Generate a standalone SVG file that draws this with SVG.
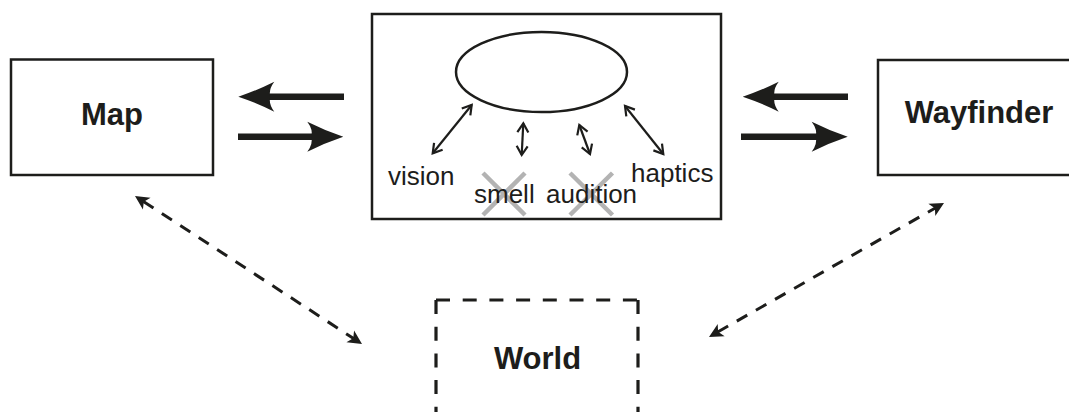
<svg xmlns="http://www.w3.org/2000/svg" width="1069" height="412" viewBox="0 0 1069 412">
  <style>
    .box { fill: #ffffff; stroke: #1d1d1b; stroke-width: 2.5; }
    .dashbox { fill: none; stroke: #1d1d1b; stroke-width: 3.2; stroke-dasharray: 14 12.7; }
    .title { font-family: "Liberation Sans", Arial, sans-serif; font-weight: bold; font-size: 31px; fill: #1d1d1b; text-anchor: middle; }
    .sense { font-family: "Liberation Sans", Arial, sans-serif; font-size: 26px; fill: #1d1d1b; }
    .thick { stroke: #1d1d1b; stroke-width: 6.5; fill: none; }
    .thin { stroke: #1d1d1b; stroke-width: 2.2; fill: none; }
    .dashed { stroke: #1d1d1b; stroke-width: 3; fill: none; stroke-dasharray: 12 10; }
    .cross { stroke: #b3b3b3; stroke-width: 4.5; }
    .head { fill: #1d1d1b; }
    .vhead { fill: none; stroke: #1d1d1b; stroke-width: 2.2; }
  </style>
  <defs>
    <!-- arrowheads drawn with the tip at the origin, pointing along +x -->
    <path id="bigHead" d="M0,0 Q-18,-6 -36,-15 Q-30,-7 -32,0 Q-30,7 -36,15 Q-18,6 0,0 Z"/>
    <path id="dashHead" d="M0,0 L-14,-7 L-10.5,0 L-14,7 Z"/>
    <path id="vHead" d="M-9,-5.5 L0,0 L-9,5.5"/>
  </defs>

  <g id="map">
    <rect class="box" x="11" y="59.5" width="202" height="115.5"/>
    <text class="title" x="112" y="125">Map</text>
  </g>

  <g id="perception">
    <rect class="box" x="372" y="14" width="349" height="205"/>
    <ellipse cx="541.5" cy="72" rx="85.5" ry="40" fill="none" stroke="#1d1d1b" stroke-width="2.5"/>
    <line class="cross" x1="483" y1="173" x2="525" y2="215"/>
    <line class="cross" x1="525" y1="173" x2="483" y2="215"/>
    <line class="cross" x1="570" y1="173" x2="612.5" y2="215"/>
    <line class="cross" x1="612.5" y1="173" x2="570" y2="215"/>
    <line class="thin" x1="471.7" y1="105" x2="432.7" y2="153.3"/>
    <use href="#vHead" class="vhead" transform="translate(471.7,105) rotate(-51.1)"/>
    <use href="#vHead" class="vhead" transform="translate(432.7,153.3) rotate(128.9)"/>
    <line class="thin" x1="523.3" y1="123.3" x2="521.7" y2="155"/>
    <use href="#vHead" class="vhead" transform="translate(523.3,123.3) rotate(-87.1)"/>
    <use href="#vHead" class="vhead" transform="translate(521.7,155) rotate(92.9)"/>
    <line class="thin" x1="579.3" y1="125" x2="590" y2="154"/>
    <use href="#vHead" class="vhead" transform="translate(579.3,125) rotate(-110.3)"/>
    <use href="#vHead" class="vhead" transform="translate(590,154) rotate(69.7)"/>
    <line class="thin" x1="625" y1="106" x2="663.3" y2="154"/>
    <use href="#vHead" class="vhead" transform="translate(625,106) rotate(-128.6)"/>
    <use href="#vHead" class="vhead" transform="translate(663.3,154) rotate(51.4)"/>
    <text class="sense" x="388" y="185">vision</text>
    <text class="sense" x="474" y="203">smell</text>
    <text class="sense" x="546" y="203">audition</text>
    <text class="sense" x="631" y="182">haptics</text>
  </g>

  <g id="wayfinder">
    <rect class="box" x="878" y="60" width="200" height="115"/>
    <text class="title" x="979" y="123">Wayfinder</text>
  </g>

  <g id="world">
    <path class="dashbox" d="M436,300 H638 M436,300 V430 M638,300 V430"/>
    <text class="title" x="537.5" y="369">World</text>
  </g>

  <g id="connectors">
    <line class="thick" x1="344" y1="96.7" x2="268" y2="96.7"/>
    <use href="#bigHead" class="head" transform="translate(238.3,96.7) rotate(180)"/>
    <line class="thick" x1="238" y1="136.7" x2="313" y2="136.7"/>
    <use href="#bigHead" class="head" transform="translate(343.3,136.7)"/>
    <line class="thick" x1="848" y1="96.7" x2="773" y2="96.7"/>
    <use href="#bigHead" class="head" transform="translate(742.7,96.7) rotate(180)"/>
    <line class="thick" x1="741" y1="136.7" x2="817" y2="136.7"/>
    <use href="#bigHead" class="head" transform="translate(847.7,136.7)"/>
    <line class="dashed" x1="143.4" y1="201.5" x2="353.6" y2="338.5"/>
    <use href="#dashHead" class="head" transform="translate(135,196) rotate(213.1)"/>
    <use href="#dashHead" class="head" transform="translate(362,344) rotate(33.1)"/>
    <line class="dashed" x1="717.7" y1="332" x2="935.3" y2="208"/>
    <use href="#dashHead" class="head" transform="translate(709,337) rotate(150.3)"/>
    <use href="#dashHead" class="head" transform="translate(944,203) rotate(-29.7)"/>
  </g>
</svg>
